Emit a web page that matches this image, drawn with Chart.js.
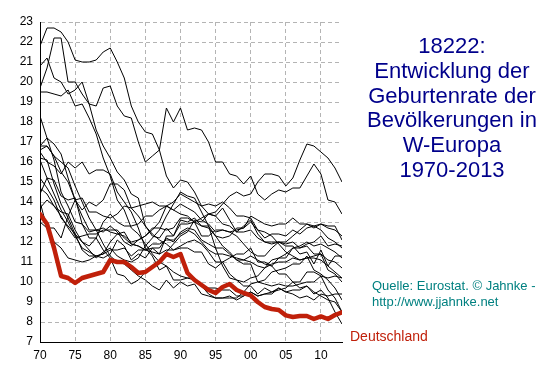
<!DOCTYPE html>
<html>
<head>
<meta charset="utf-8">
<script src="https://cdn.jsdelivr.net/npm/chart.js@4/dist/chart.umd.min.js"></script>
<style>
  html, body { margin: 0; padding: 0; background: #fff; }
  #wrap { position: relative; width: 553px; height: 376px; overflow: hidden; }
  canvas { position: absolute; left: 0; top: 0; }
  .t { position: absolute; font-family: Arial, "Liberation Sans", sans-serif; white-space: nowrap; }
  #title { left: 352px; width: 200px; top: 34px; text-align: center; color: #00008b; font-size: 22px; line-height: 24.8px; }
  #src { left: 372px; top: 278px; color: #008080; font-size: 13px; line-height: 15.5px; }
  #de { left: 350px; top: 328px; color: #c0200a; font-size: 14px; line-height: 16px; }
</style>
</head>
<body>
<div id="wrap">
<canvas id="c" width="553" height="376"></canvas>
<div class="t" id="title">18222:<br>Entwicklung der<br>Geburtenrate der<br>Bevölkerungen in<br>W-Europa<br>1970-2013</div>
<div class="t" id="src">Quelle: Eurostat. © Jahnke -<br>http://www.jjahnke.net</div>
<div class="t" id="de">Deutschland</div>
</div>
<script>
const years = [1970,1971,1972,1973,1974,1975,1976,1977,1978,1979,1980,1981,1982,1983,1984,1985,1986,1987,1988,1989,1990,1991,1992,1993,1994,1995,1996,1997,1998,1999,2000,2001,2002,2003,2004,2005,2006,2007,2008,2009,2010,2011,2012,2013];
const xTickValues = [1970,1975,1980,1985,1990,1995,2000,2005,2010];
const xTickLabels = ["70","75","80","85","90","95","00","05","10"];

const deutschland = [13.4,12.9,11.7,10.3,10.2,9.95,10.2,10.3,10.4,10.5, 11.1,11.0,11.0,10.75,10.45,10.5,10.75,11.0,11.4,11.25, 11.4,10.45,10.1,9.85,9.6,9.45,9.75,9.9,9.6,9.45, 9.33,9.0,8.75,8.65,8.6,8.33,8.25,8.3,8.3,8.15, 8.28,8.15,8.35,8.48];

const irland = [21.8,22.7,22.7,22.5,22.0,21.1,21.0,21.0,21.1,21.5, 21.7,21.0,20.2,18.8,18.0,17.5,17.4,16.6,15.3,14.7, 15.1,15.0,14.5,13.8,13.4,13.5,13.9,14.3,14.5,14.3, 14.4,15.0,15.4,15.4,15.3,14.8,15.2,16.1,16.9,16.8, 16.5,16.2,15.7,15.0];
const island = [19.7,20.7,22.2,22.2,20.0,20.0,19.4,18.9,18.8,19.7, 19.8,18.8,18.3,18.2,17.0,16.0,16.3,16.6,18.7,18.0, 18.7,17.6,17.7,17.6,17.0,16.0,16.0,15.4,15.3,14.9, 15.3,14.4,14.1,14.4,14.6,14.5,14.7,14.7,15.3,15.9, 15.4,14.1,14.0,13.4];
const portugal = [20.8,21.2,20.2,20.0,19.4,19.6,20.0,18.9,17.6,16.8, 16.2,15.5,15.1,14.4,14.2,12.8,12.4,12.1,11.9,11.6, 11.7,11.7,11.5,11.5,10.9,10.7,11.0,11.2,11.4,11.4, 11.7,11.0,11.0,10.8,10.4,10.4,10.0,9.7,9.8,9.4, 9.6,9.2,8.5,7.9];
const spanien = [19.5,19.5,19.4,19.3,19.6,18.8,18.9,18.2,17.4,16.2, 15.3,14.1,13.6,12.7,12.4,11.9,11.4,11.0,10.8,10.5, 10.3,10.2,10.2,9.8,9.4,9.2,9.2,9.2,9.2,9.5, 9.9,10.0,10.1,10.5,10.6,10.7,10.9,10.9,11.3,10.6, 10.4,10.1,9.7,9.1];
const griechenland = [16.5,16.0,15.8,15.4,16.0,15.7,16.0,15.4,15.6,15.6, 15.4,14.5,14.0,13.5,12.7,11.7,11.3,10.6,10.8,10.1, 10.1,10.2,10.1,9.8,9.7,9.7,9.6,9.6,9.3,9.3, 9.5,9.3,9.4,9.5,9.6,9.7,10.0,10.0,10.5,10.5, 10.3,9.6,9.2,8.5];
const italien = [16.8,16.8,16.3,16.0,15.7,14.8,14.0,13.2,12.6,11.9, 11.3,11.0,10.9,10.6,10.3,10.1,9.8,9.6,10.1,9.7, 10.0,9.8,9.9,9.4,9.3,9.2,9.2,9.3,9.1,9.3, 9.5,9.3,9.4,9.4,9.7,9.5,9.6,9.6,9.8,9.5, 9.3,9.1,9.0,8.5];
const niederlande = [18.3,17.2,16.1,14.5,13.8,13.0,12.9,12.5,12.6,12.5, 12.8,12.5,12.0,11.8,12.1,12.3,12.7,12.7,12.6,12.7, 13.2,13.2,13.0,12.8,12.7,12.3,12.2,12.3,12.7,12.7, 13.0,12.6,12.5,12.3,11.9,11.5,11.3,11.1,11.2,11.2, 11.1,10.8,10.5,10.2];
const frankreich = [16.8,17.2,16.9,16.4,15.2,14.1,13.6,14.0,13.8,14.1, 14.9,14.9,14.6,13.7,13.8,13.9,14.0,13.8,13.8,13.6, 13.4,13.3,13.0,12.3,12.3,12.6,12.6,12.5,12.6,12.7, 13.3,13.1,12.9,12.8,12.9,12.9,13.2,12.9,12.9,12.8, 12.9,12.7,12.6,12.3];
const grossbritannien = [16.2,16.1,14.9,13.9,13.2,12.4,12.0,11.8,12.2,13.0, 13.4,13.0,12.8,12.8,12.9,13.3,13.3,13.6,13.8,13.6, 13.9,13.7,13.5,13.1,12.9,12.5,12.6,12.5,12.3,11.9, 11.5,11.3,11.3,11.7,12.0,12.0,12.3,12.6,12.9,12.7, 12.9,12.8,12.8,12.1];
const belgien = [14.7,14.4,13.8,13.3,12.7,12.2,12.3,12.4,12.4,12.6, 12.6,12.6,12.2,11.9,11.8,11.6,11.9,11.9,12.1,12.1, 12.4,12.6,12.4,12.0,11.6,11.4,11.4,11.3,11.2,11.1, 11.3,11.1,10.9,10.8,11.2,11.4,11.7,11.8,12.0,11.8, 11.9,11.7,11.5,11.2];
const daenemark = [14.4,15.2,15.1,14.3,14.1,14.2,12.9,12.2,12.2,11.6, 11.2,10.4,10.3,9.9,10.1,10.5,10.8,11.0,11.5,11.9, 12.3,12.5,13.1,13.0,13.4,13.3,12.9,12.8,12.5,12.5, 12.6,12.2,12.0,12.0,12.0,11.9,12.0,11.7,11.8,11.4, 11.4,10.6,10.4,10.0];
const luxemburg = [13.0,12.7,12.0,11.7,11.2,11.1,11.0,11.1,11.3,11.2, 11.4,12.1,11.8,11.1,11.4,11.2,11.7,11.4,12.3,12.3, 12.9,12.9,13.0,13.2,13.4,13.3,13.7,13.1,12.5,12.8, 13.1,12.4,12.0,11.9,12.0,11.8,11.8,11.4,11.5,10.9, 11.6,10.8,11.3,11.3];
const oesterreich = [15.2,14.7,14.1,13.2,12.8,12.4,11.6,11.3,11.3,11.4, 12.0,12.4,12.5,11.9,11.8,11.6,11.5,11.4,11.6,11.6, 11.8,12.0,12.1,11.9,11.5,11.0,11.0,10.4,10.1,9.8, 9.8,9.4,9.7,9.5,9.7,9.5,9.4,9.2,9.3,9.1, 9.4,9.3,9.4,9.4];
const finnland = [14.0,12.7,12.7,12.2,13.3,14.1,14.2,13.5,13.5,13.3, 13.2,13.4,13.8,13.7,13.3,12.8,12.3,12.2,12.7,12.3, 13.1,13.0,13.2,12.8,12.8,12.3,11.8,11.5,11.1,11.1, 11.0,10.8,10.7,10.9,11.0,11.0,11.2,11.1,11.2,11.3, 11.4,11.1,11.0,10.7];
const schweden = [13.7,14.1,13.8,13.5,13.4,12.6,12.0,11.6,11.2,11.5, 11.7,11.3,11.1,11.0,11.2,11.8,12.2,12.6,13.3,13.9, 14.5,14.3,14.2,13.5,12.8,11.7,10.8,10.2,10.1,10.0, 10.2,10.3,10.7,11.1,11.2,11.2,11.7,11.7,11.9,12.0, 12.3,11.8,11.9,11.8];
const norwegen = [16.6,16.8,16.3,15.5,15.0,14.1,13.3,12.6,12.6,12.7, 12.5,12.4,12.3,12.0,12.1,12.3,12.6,13.0,13.8,14.0, 14.4,14.2,14.0,13.8,13.9,13.8,14.0,13.7,13.3,13.3, 13.2,12.6,12.2,12.4,12.4,12.3,12.6,12.4,12.7,12.8, 12.6,12.2,12.0,11.7];
const schweiz = [16.1,15.2,14.4,13.6,13.0,12.3,11.7,11.5,11.3,11.4, 11.6,11.6,11.7,11.3,11.6,11.6,11.7,11.7,12.2,12.0, 12.5,12.7,12.6,12.1,11.9,11.7,11.7,11.4,11.1,10.9, 10.9,10.0,9.9,9.8,9.9,9.8,9.8,9.9,10.0,10.0, 10.3,10.2,10.3,10.2];

const others = [
  ["Irland", irland], ["Island", island], ["Portugal", portugal], ["Spanien", spanien],
  ["Griechenland", griechenland], ["Italien", italien], ["Niederlande", niederlande],
  ["Frankreich", frankreich], ["Großbritannien", grossbritannien], ["Belgien", belgien],
  ["Dänemark", daenemark], ["Luxemburg", luxemburg], ["Österreich", oesterreich],
  ["Finnland", finnland], ["Schweden", schweden], ["Norwegen", norwegen], ["Schweiz", schweiz]
];

function pts(vals) { return vals.map((v, i) => ({ x: years[i], y: v })); }

const datasets = [{
  label: "Deutschland", data: pts(deutschland), borderColor: "#c0200a", borderWidth: 4.5,
  pointRadius: 0, tension: 0, fill: false, order: 0, borderJoinStyle: "round", borderCapStyle: "round"
}];
others.forEach(([name, vals]) => datasets.push({
  label: name, data: pts(vals), borderColor: "#000", borderWidth: 1,
  pointRadius: 0, tension: 0, fill: false, order: 1
}));

const font = { family: 'Arial, "Liberation Sans", sans-serif', size: 12 };

new Chart(document.getElementById("c"), {
  type: "line",
  data: { datasets },
  options: {
    responsive: false, animation: false,
    layout: { padding: { top: 22, right: 211, left: 0, bottom: 0 } },
    plugins: { legend: { display: false }, tooltip: { enabled: false } },
    scales: {
      x: {
        type: "linear", min: 1970, max: 2013,
        afterFit: s => { s.height = 34; },
        afterBuildTicks: s => { s.ticks = xTickValues.map(v => ({ value: v })); },
        ticks: { color: "#000", font, padding: 6, maxRotation: 0, autoSkip: false,
          callback: v => { const i = xTickValues.indexOf(v); return i >= 0 ? xTickLabels[i] : ""; } },
        grid: { color: "#b4b4b4", lineWidth: 1, drawTicks: false },
        border: { color: "#000", width: 1, dash: [4, 3] }
      },
      y: {
        min: 7, max: 23,
        afterFit: s => { s.width = 40; },
        ticks: { color: "#000", font, padding: 7, stepSize: 1 },
        grid: { color: "#b4b4b4", lineWidth: 1, drawTicks: false },
        border: { color: "#000", width: 1, dash: [4, 3] }
      }
    }
  }
});
</script>
</body>
</html>
